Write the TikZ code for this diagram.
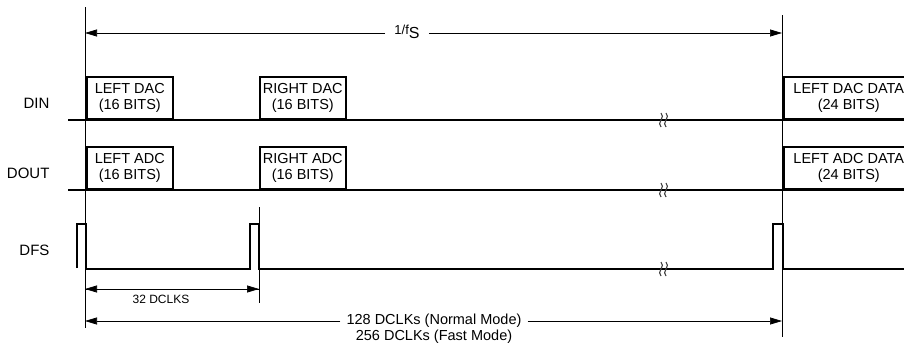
\documentclass[tikz,border=0pt]{standalone}
\usepackage{fontspec}
\setmainfont{Liberation Sans}
\usetikzlibrary{arrows.meta,positioning}

\begin{document}
\begin{tikzpicture}[x=1pt,y=-1pt,
        signal/.style={line width=1.6pt},
        guide/.style={line width=0.7pt},
        slot/.style={rectangle, draw, line width=1.6pt, anchor=south west, minimum width=86pt, minimum height=42pt, inner sep=0pt, align=center, font=\fontsize{14.5}{16}\selectfont},
        wideslot/.style={slot, minimum width=130pt},
        signame/.style={anchor=east, font=\fontsize{15}{17}\selectfont},
        dimtext/.style={font=\fontsize{14.5}{16}\selectfont, inner sep=6pt, align=center},
        arrow/.style={-{Triangle[length=12pt,width=7pt]}, line width=0.7pt},
        brk/.style={line width=1.1pt, black!75}
    ]
        \clip (0,0) rectangle (904,351);
        % Frame lines
        \coordinate (a0) at (85,7);
        \coordinate (a1) at (85,328);
        \coordinate (b0) at (782,15);
        \coordinate (b1) at (782,337);
        \coordinate (m0) at (259,207);
        \coordinate (m1) at (259,303);
        \draw[guide] (a0) -- (a1);
        \draw[guide] (b0) -- (b1);
        \draw[guide] (m0) -- (m1);

        % Signal names
        \node[signame] (din) at (53,103) {DIN};
        \node[signame] (dout) at (53,173) {DOUT};
        \node[signame] (dfs) at (53,250) {DFS};

        % DIN
        \draw[signal] (68,120) -- (904,120);
        \node[slot] (ldac) at (86,120) {LEFT DAC\\(16 BITS)};
        \node[slot] (rdac) at (259,120) {RIGHT DAC\\(16 BITS)};
        \node[wideslot] (ldacd) at (783,120) {LEFT DAC DATA\\(24 BITS)};

        % DOUT
        \draw[signal] (68,190) -- (904,190);
        \node[slot] (ladc) at (86,190) {LEFT ADC\\(16 BITS)};
        \node[slot] (radc) at (259,190) {RIGHT ADC\\(16 BITS)};
        \node[wideslot] (ladcd) at (783,190) {LEFT ADC DATA\\(24 BITS)};

        % DFS
        \draw[signal] (77,268) -- (77,224) -- (86,224) -- (86,269) -- (250,269)
            -- (250,224) -- (259,224) -- (259,269) -- (773,269) -- (773,224)
            -- (783,224) -- (783,269) -- (904,269);

        % Breaks
        \foreach \y in {120,190,269} {
            \draw[brk] (661,\y-7) .. controls (666,\y-3) and (656,\y+3) .. (661,\y+7);
            \draw[brk] (666,\y-7) .. controls (671,\y-3) and (661,\y+3) .. (666,\y+7);
        }

        % Dimensions
        \node[dimtext, inner sep=9pt] (fs) at (407,32) {\fontsize{13}{14}\selectfont 1/f{\raisebox{-4pt}{\fontsize{16}{17}\selectfont S}}};
        \coordinate (fsl) at (85,33);
        \coordinate (fsr) at (782,33);
        \draw[arrow] (fs.west |- fsl) -- (fsl);
        \draw[arrow] (fs.east |- fsr) -- (fsr);

        \coordinate (c32l) at (85,289);
        \coordinate (c32r) at (259,289);
        \draw[arrow] (c32l) -- (c32r);
        \draw[arrow] (c32r) -- (c32l);
        \node[font=\fontsize{12}{13}\selectfont] (d32) at (161,299) {32 DCLKS};

        \node[dimtext] (d128) at (434,329) {128 DCLKs (Normal Mode)\\256 DCLKs (Fast Mode)};
        \coordinate (c128l) at (85,321);
        \coordinate (c128r) at (782,321);
        \draw[arrow] (d128.west |- c128l) -- (c128l);
        \draw[arrow] (d128.east |- c128r) -- (c128r);
    \end{tikzpicture}
\end{document}
